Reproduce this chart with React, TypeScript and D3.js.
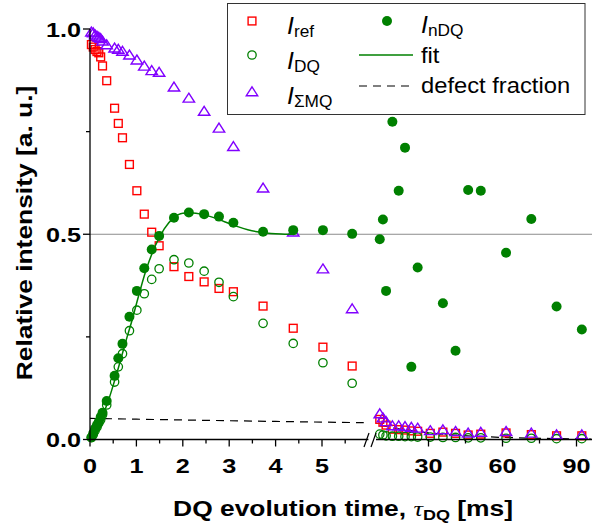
import React from "react";
import * as d3 from "d3";

// ---------- data ----------
const leftTimes = [0.03, 0.07, 0.11, 0.15, 0.19, 0.23, 0.27, 0.36, 0.53, 0.61, 0.70, 0.85, 1.01, 1.17, 1.33, 1.49, 1.81, 2.13, 2.46, 2.78, 3.09, 3.73, 4.38, 5.02, 5.65];
const refLeft = [0.962, 0.956, 0.950, 0.945, 0.942, 0.932, 0.910, 0.874, 0.807, 0.770, 0.735, 0.670, 0.606, 0.549, 0.505, 0.472, 0.421, 0.397, 0.384, 0.368, 0.360, 0.325, 0.271, 0.225, 0.179];
const dqLeft = [0.005, 0.012, 0.022, 0.030, 0.040, 0.048, 0.060, 0.084, 0.140, 0.177, 0.209, 0.265, 0.315, 0.355, 0.390, 0.416, 0.438, 0.430, 0.410, 0.383, 0.348, 0.283, 0.234, 0.187, 0.137];
const smqLeft = [0.992, 0.990, 0.985, 0.982, 0.979, 0.976, 0.970, 0.961, 0.953, 0.950, 0.945, 0.936, 0.924, 0.909, 0.898, 0.894, 0.858, 0.831, 0.799, 0.758, 0.713, 0.612, 0.505, 0.415, 0.318];
const ndqLeft = [0.005, 0.015, 0.027, 0.035, 0.043, 0.055, 0.065, 0.094, 0.155, 0.198, 0.233, 0.299, 0.362, 0.417, 0.463, 0.496, 0.540, 0.553, 0.549, 0.543, 0.528, 0.506, 0.510, 0.510, 0.501];

const rightTimes = [10.24, 11.52, 12.8, 15.36, 17.92, 20.48, 23.04, 25.6, 30.72, 35.84, 40.96, 46.08, 51.2, 61.44, 71.68, 81.92, 92.16];
const refRight = [0.049, 0.042, 0.035, 0.025, 0.024, 0.023, 0.021, 0.020, 0.015, 0.018, 0.015, 0.011, 0.013, 0.016, 0.012, 0.009, 0.009];
const dqRight = [0.013, 0.011, 0.009, 0.008, 0.008, 0.007, 0.007, 0.006, 0.006, 0.005, 0.005, 0.004, 0.004, 0.003, 0.003, 0.002, 0.002];
const smqRight = [0.062, 0.052, 0.043, 0.033, 0.033, 0.031, 0.029, 0.027, 0.021, 0.023, 0.019, 0.015, 0.017, 0.019, 0.015, 0.011, 0.011];
const ndqRight = [0.488, 0.536, 0.362, 0.774, 0.606, 0.711, 0.177, 0.419, null, 0.332, 0.216, 0.608, 0.606, 0.455, 0.537, 0.324, 0.268];

const fitTimes = [0, 0.1, 0.2, 0.3, 0.4, 0.5, 0.6, 0.7, 0.8, 0.9, 1.0, 1.2, 1.4, 1.6, 1.8, 2.0, 2.2, 2.4, 2.6, 2.8, 3.0, 3.2, 3.4, 3.6, 3.8, 4.0, 4.2, 4.4];
const fitValues = [0, 0.02, 0.042, 0.066, 0.096, 0.132, 0.17, 0.21, 0.25, 0.288, 0.33, 0.41, 0.47, 0.513, 0.54, 0.551, 0.552, 0.549, 0.543, 0.535, 0.526, 0.518, 0.511, 0.506, 0.503, 0.501, 0.5, 0.5];

const defectLeftTimes = [0, 1, 2, 3, 4, 5, 5.9];
const defectLeftValues = [0.0515, 0.0495, 0.0476, 0.0457, 0.044, 0.0423, 0.041];
const defectRightTimes = [10.24, 15, 20, 25, 30, 40, 50, 60, 70, 80, 90, 96];
const defectRightValues = [0.035, 0.029, 0.024, 0.02, 0.016, 0.011, 0.0075, 0.005, 0.0035, 0.0023, 0.0015, 0.0012];

const yMajor = [0, 0.5, 1.0];
const yMinor = [0.25, 0.75];
const xLeftMajor = [0, 1, 2, 3, 4, 5];
const xLeftMinor = [0.5, 1.5, 2.5, 3.5, 4.5, 5.5];
const xRightMajor = [30, 60, 90];
const xRightMinor = [45, 75];

// ---------- layout ----------
const W = 592, H = 529;
const xL = d3.scaleLinear().domain([0, 6]).range([90, 368.4]);
const xR = d3.scaleLinear().domain([30, 90]).range([428.5, 576.5]);
const R_START = 376, R_END = 592;
const y = d3.scaleLinear().domain([0, 1]).range([439.5, 29]);
const AXIS_Y = y(0);

const RED = "#ff0000", GREEN = "#008000", PURPLE = "#8000ff";
const SANS = "'Liberation Sans', Arial, sans-serif";
const SX = 1.2;

type Pt = [number, number];
const pts = (ts: number[], vs: (number | null)[], xs: (t: number) => number): Pt[] =>
  ts.map((t, i) => [xs(t), vs[i]] as [number, number | null]).filter(d => d[1] !== null).map(d => [d[0], y(d[1] as number)]);

const Square = ({ p }: { p: Pt }) => (
  <rect x={p[0] - 3.9} y={p[1] - 3.9} width={7.8} height={7.8} fill="none" stroke={RED} strokeWidth={1.4} />
);
const OpenCircle = ({ p }: { p: Pt }) => (
  <circle cx={p[0]} cy={p[1]} r={4.2} fill="none" stroke={GREEN} strokeWidth={1.3} />
);
const Tri = ({ p }: { p: Pt }) => {
  const s = 5.2;
  const d = `M${p[0]},${p[1] - s}L${p[0] + s * 1.1},${p[1] + s * 0.72}L${p[0] - s * 1.1},${p[1] + s * 0.72}Z`;
  return <path d={d} fill="none" stroke={PURPLE} strokeWidth={1.4} strokeLinejoin="miter" />;
};
const Dot = ({ p }: { p: Pt }) => <circle cx={p[0]} cy={p[1]} r={5} fill={GREEN} />;

const SText = (props: { x: number; y: number; anchor?: string; size: number; weight?: string; rotate?: boolean; sx?: number; children: React.ReactNode }) => (
  <text
    transform={`translate(${props.x},${props.y})${props.rotate ? " rotate(-90)" : ""} scale(${props.sx ?? SX},1)`}
    textAnchor={props.anchor ?? "start"}
    fontFamily={SANS}
    fontSize={props.size}
    fontWeight={props.weight ?? "normal"}
    fill="#000"
  >
    {props.children}
  </text>
);

export default function App() {
  const line = d3.line<Pt>().x(d => d[0]).y(d => d[1]);
  const fitLine = d3.line<Pt>().x(d => d[0]).y(d => d[1]).curve(d3.curveMonotoneX);

  const refL = pts(leftTimes, refLeft, xL), refRt = pts(rightTimes, refRight, xR);
  const dqL = pts(leftTimes, dqLeft, xL), dqRt = pts(rightTimes, dqRight, xR);
  const smqL = pts(leftTimes, smqLeft, xL), smqRt = pts(rightTimes, smqRight, xR);
  const ndqL = pts(leftTimes, ndqLeft, xL), ndqRt = pts(rightTimes, ndqRight, xR);

  return (
    <svg width={W} height={H} style={{ position: "absolute", left: 0, top: 0, background: "#fff" }}>
      {/* 0.5 reference line */}
      <line x1={90} x2={R_END} y1={y(0.5)} y2={y(0.5)} stroke="#8c8c8c" strokeWidth={1} />

      {/* defect fraction */}
      <path d={line(pts(defectLeftTimes, defectLeftValues, xL)) ?? ""} fill="none" stroke="#000" strokeWidth={1.2} strokeDasharray="8,6" />
      <path d={line(pts(defectRightTimes, defectRightValues, xR)) ?? ""} fill="none" stroke="#000" strokeWidth={1.2} strokeDasharray="8,6" />

      {/* data */}
      {refL.concat(refRt).map((p, i) => <Square key={"r" + i} p={p} />)}
      {dqL.concat(dqRt).map((p, i) => <OpenCircle key={"d" + i} p={p} />)}
      {smqL.concat(smqRt).map((p, i) => <Tri key={"s" + i} p={p} />)}
      <path d={fitLine(pts(fitTimes, fitValues, xL)) ?? ""} fill="none" stroke={GREEN} strokeWidth={1.5} />
      {ndqL.concat(ndqRt).map((p, i) => <Dot key={"n" + i} p={p} />)}

      {/* y axis */}
      <line x1={90} x2={90} y1={y(1)} y2={AXIS_Y} stroke="#000" strokeWidth={1.3} />
      {yMajor.map(v => <line key={"ym" + v} x1={83} x2={90} y1={y(v)} y2={y(v)} stroke="#000" strokeWidth={1.3} />)}
      {yMinor.map(v => <line key={"yn" + v} x1={86} x2={90} y1={y(v)} y2={y(v)} stroke="#000" strokeWidth={1.3} />)}
      {yMajor.map(v => (
        <SText key={"yl" + v} x={81} y={y(v) + 7.5} anchor="end" size={21} weight="bold">{v.toFixed(1)}</SText>
      ))}

      {/* x axis, left segment */}
      <line x1={90} x2={368.4} y1={AXIS_Y} y2={AXIS_Y} stroke="#000" strokeWidth={1.3} />
      {xLeftMajor.map(t => <line key={"xm" + t} x1={xL(t)} x2={xL(t)} y1={AXIS_Y} y2={AXIS_Y + 7} stroke="#000" strokeWidth={1.3} />)}
      {xLeftMinor.map(t => <line key={"xn" + t} x1={xL(t)} x2={xL(t)} y1={AXIS_Y} y2={AXIS_Y + 4} stroke="#000" strokeWidth={1.3} />)}
      {xLeftMajor.map(t => (
        <SText key={"xl" + t} x={xL(t)} y={473} anchor="middle" size={21} weight="bold">{String(t)}</SText>
      ))}
      {/* x axis, right segment */}
      <line x1={R_START} x2={R_END} y1={AXIS_Y} y2={AXIS_Y} stroke="#000" strokeWidth={1.3} />
      {xRightMajor.map(t => <line key={"xrm" + t} x1={xR(t)} x2={xR(t)} y1={AXIS_Y} y2={AXIS_Y + 7} stroke="#000" strokeWidth={1.3} />)}
      {xRightMinor.map(t => <line key={"xrn" + t} x1={xR(t)} x2={xR(t)} y1={AXIS_Y} y2={AXIS_Y + 4} stroke="#000" strokeWidth={1.3} />)}
      {xRightMajor.map(t => (
        <SText key={"xrl" + t} x={xR(t)} y={473} anchor="middle" size={21} weight="bold">{String(t)}</SText>
      ))}
      {/* break marks */}
      <line x1={364} x2={369} y1={447} y2={433} stroke="#000" strokeWidth={1.2} />
      <line x1={371} x2={376} y1={447} y2={433} stroke="#000" strokeWidth={1.2} />

      {/* axis titles */}
      <SText x={32} y={233} anchor="middle" size={22} weight="bold" rotate>Relative intensity [a. u.]</SText>
      <text transform={`translate(343,516) scale(${SX},1)`} textAnchor="middle" fontFamily={SANS} fontSize={22} fontWeight="bold">
        DQ evolution time,{" "}
        <tspan fontFamily="'Liberation Serif', 'Times New Roman', serif" fontStyle="italic" fontWeight="normal">τ</tspan>
        <tspan fontSize={15} dy={4}>DQ</tspan>
        <tspan dy={-4}> [ms]</tspan>
      </text>

      {/* legend */}
      <rect x={227.5} y={3.5} width={357.5} height={111} fill="#fff" stroke="#333" strokeWidth={1} />
      <Square p={[252, 21]} />
      <OpenCircle p={[252, 55]} />
      <Tri p={[252, 92]} />
      <Dot p={[387, 21]} />
      <line x1={359} x2={413} y1={55} y2={55} stroke={GREEN} strokeWidth={1.5} />
      <line x1={359} x2={413} y1={86} y2={86} stroke="#000" strokeWidth={1.2} strokeDasharray="8,6" />
      {[
        { x: 287, y: 34, sub: "ref" },
        { x: 287, y: 69, sub: "DQ" },
        { x: 287, y: 104, sub: "ΣMQ" },
        { x: 421, y: 33, sub: "nDQ" },
      ].map(l => (
        <text key={l.sub} transform={`translate(${l.x},${l.y}) scale(1.08,1)`} fontFamily={SANS} fontSize={23}>
          <tspan fontStyle="italic">I</tspan>
          <tspan fontSize={16} dy={3}>{l.sub}</tspan>
        </text>
      ))}
      <SText x={421} y={63} size={22} sx={1.08}>fit</SText>
      <SText x={421} y={93} size={22} sx={1.08}>defect fraction</SText>
    </svg>
  );
}
